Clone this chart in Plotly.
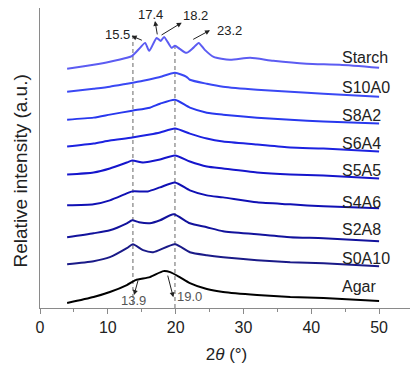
import plotly.graph_objects as go

# ---- data (2θ in degrees, relative intensity in arbitrary offset units) ----
starch_x = [4.0, 5.0, 7.9, 10.3, 12.8, 13.6, 14.75, 15.5, 16.1, 17.2, 17.8, 18.3, 19.4, 19.9, 20.6, 21.6, 22.6, 23.4, 24.3, 25.6, 28.0, 31.0, 34.4, 39.3, 44.2, 50.0]
starch_y = [240, 241, 244, 247, 251, 253, 261, 266, 258, 271, 268, 272, 261, 263, 260, 256, 261, 266, 259, 252, 249, 251, 248, 245, 244, 241]

s10a0_x = [4.0, 7.9, 10.3, 12.8, 15.2, 17.2, 17.8, 19.9, 21.6, 22.1, 24.6, 27.0, 32.0, 36.9, 41.8, 50.0]
s10a0_y = [217, 220, 222, 225, 228, 231, 232, 236, 232, 229, 225, 222, 219, 217, 215, 212]

s8a2_x = [4.0, 7.9, 10.3, 13.6, 16.2, 17.7, 19.9, 22.1, 24.6, 27.0, 32.0, 36.9, 41.8, 50.0]
s8a2_y = [189, 191, 194, 198, 201, 205, 209, 201, 196, 194, 191, 189, 187, 185]

s6a4_x = [4.0, 7.9, 10.3, 13.6, 16.2, 17.7, 19.9, 22.1, 24.6, 27.0, 32.0, 36.9, 41.8, 50.0]
s6a4_y = [162, 165, 168, 171, 174, 176, 180, 175, 170, 167, 164, 161, 160, 157]

s5a5_x = [4.0, 7.9, 10.3, 12.8, 13.6, 15.2, 17.7, 19.9, 22.1, 24.6, 27.0, 32.0, 36.9, 41.8, 50.0]
s5a5_y = [134, 136, 140, 146, 148, 146, 149, 153, 147, 142, 140, 136, 134, 133, 130]

s4a6_x = [4.0, 7.9, 10.3, 12.8, 13.6, 15.9, 17.7, 19.9, 22.1, 24.6, 27.0, 32.0, 36.9, 41.8, 50.0]
s4a6_y = [103, 104, 108, 115, 117, 117, 121, 126, 118, 113, 111, 106, 104, 102, 100]

s2a8_x = [4.0, 7.9, 10.3, 12.8, 13.6, 14.6, 16.2, 17.7, 19.7, 22.1, 24.6, 27.0, 32.0, 36.9, 41.8, 50.0]
s2a8_y = [71, 75, 78, 85, 88, 86, 85, 88, 94, 85, 81, 77, 74, 71, 70, 67]

s0a10_x = [4.0, 7.9, 10.3, 12.8, 13.7, 15.2, 16.7, 19.9, 22.1, 24.6, 27.0, 32.0, 36.9, 41.8, 50.0]
s0a10_y = [44, 47, 51, 60, 64, 58, 56, 64, 56, 53, 51, 48, 46, 45, 42]

agar_x = [4.0, 7.9, 10.3, 12.8, 14.1, 16.2, 18.2, 19.2, 20.6, 22.1, 24.6, 27.0, 32.0, 36.9, 41.8, 50.0]
agar_y = [5, 11, 16, 23, 28, 31, 37, 36, 31, 25, 19, 16, 13, 11, 10, 7]

series_names = ["Starch", "S10A0", "S8A2", "S6A4", "S5A5", "S4A6", "S2A8", "S0A10", "Agar"]
series_x = [starch_x, s10a0_x, s8a2_x, s6a4_x, s5a5_x, s4a6_x, s2a8_x, s0a10_x, agar_x]
series_y = [starch_y, s10a0_y, s8a2_y, s6a4_y, s5a5_y, s4a6_y, s2a8_y, s0a10_y, agar_y]
series_colors = ["#5c5cf2", "#3a48f4", "#2838ee", "#1c22e0", "#1515cc", "#1010b4", "#12129c", "#1a1a88", "#000000"]
label_y = [251, 221, 193, 165, 138, 106, 79, 50, 22]
label_x = 44.2

# dashed guide lines
guide_x = [13.7, 19.9]
guide_top = [275, 266]
guide_bottom = [3, 0]

# peak annotations: text, text position, arrow head, arrow tail
peak_text = ["15.5", "17.4", "18.2", "23.2", "13.9", "19.0"]
peak_text_x = [11.43, 16.3, 22.9, 27.9, 13.8, 21.97]
peak_text_y = [274, 294.5, 293, 278, 8, 11.3]
peak_text_color = ["#222222", "#222222", "#222222", "#222222", "#555555", "#555555"]
arrow_head_x = [13.52, 16.96, 20.9, 25.07, 13.86, 19.66]
arrow_head_y = [273, 288, 286.3, 278.7, 13, 10.7]
arrow_tail_x = [15.24, 17.33, 17.7, 22.37, 14.5, 18.78]
arrow_tail_y = [268, 273, 273, 268.7, 28.7, 34]

x_ticks = [0, 10, 20, 30, 40, 50]

fig = go.Figure()

for gx, gt, gb in zip(guide_x, guide_top, guide_bottom):
    fig.add_trace(go.Scatter(x=[gx, gx], y=[gb, gt], mode="lines",
                             line=dict(color="#808080", width=1.2, dash="4px,3px"),
                             showlegend=False, hoverinfo="skip"))

for name, xs, ys, c in zip(series_names, series_x, series_y, series_colors):
    fig.add_trace(go.Scatter(x=xs, y=ys, mode="lines", name=name,
                             line=dict(color=c, width=2, shape="spline", smoothing=0.6),
                             showlegend=False))

annotations = []
for name, ly in zip(series_names, label_y):
    annotations.append(dict(x=label_x, y=ly, xref="x", yref="y", text=name,
                            showarrow=False, xanchor="left", yanchor="middle",
                            font=dict(size=16, color="#222222")))

for t, tx, ty, tc in zip(peak_text, peak_text_x, peak_text_y, peak_text_color):
    annotations.append(dict(x=tx, y=ty, xref="x", yref="y", text=t, showarrow=False,
                            xanchor="center", yanchor="middle",
                            font=dict(size=13, color=tc)))

for hx, hy, tx, ty in zip(arrow_head_x, arrow_head_y, arrow_tail_x, arrow_tail_y):
    annotations.append(dict(x=hx, y=hy, ax=tx, ay=ty, xref="x", yref="y",
                            axref="x", ayref="y", text="", showarrow=True,
                            arrowhead=2, arrowsize=1, arrowwidth=1, arrowcolor="#222222"))

annotations.append(dict(x=-0.0523, y=137.5, xref="paper", yref="y",
                        text="Relative intensity (a.u.)", textangle=-90, showarrow=False,
                        xanchor="center", yanchor="middle", borderpad=0,
                        font=dict(size=19, color="#222222")))

# page body adds an 8px offset, so the figure is sized to fill 418x370 after it
fig.update_layout(
    width=410, height=362,
    margin=dict(l=32, r=5, t=0, b=62),
    paper_bgcolor="white", plot_bgcolor="white",
    font=dict(family="Liberation Sans, Arial, sans-serif", color="#222222"),
    annotations=annotations,
    xaxis=dict(range=[0, 55], tickvals=x_ticks, ticktext=[str(v) for v in x_ticks],
               showgrid=False, zeroline=False, showline=True, linecolor="#8a8a8a",
               linewidth=1.2, ticks="outside", ticklen=5, tickcolor="#8a8a8a",
               tickfont=dict(size=16, color="#222222"),
               minor=dict(tickvals=[5, 15, 25, 35, 45, 55], ticks="outside",
                          ticklen=3, tickcolor="#8a8a8a"),
               title=dict(text="2<i>θ</i> (°)", font=dict(size=17, color="#222222"),
                          standoff=12)),
    yaxis=dict(range=[0, 301], showgrid=False, zeroline=False, showline=True,
               linecolor="#8a8a8a", linewidth=1.2, showticklabels=False, ticks=""),
)

fig.write_html("out.html")
